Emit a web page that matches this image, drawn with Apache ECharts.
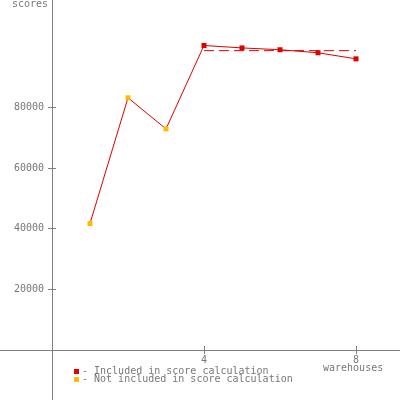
<!DOCTYPE html>
<html><head><meta charset="utf-8">
<script src="https://cdn.jsdelivr.net/npm/echarts@6/dist/echarts.min.js"></script>
<style>html,body{margin:0;padding:0;background:#fff}#c{width:400px;height:400px}</style>
</head><body><div id="c"></div>
<script>
const warehouses = [1, 2, 3, 4, 5, 6, 7, 8];
const scores = [41700, 83150, 72900, 100400, 99600, 99000, 98000, 96000];
const included = [false, false, false, true, true, true, true, true];
const avgRange = [4, 8];
const avgScore = 98700;
const yTicks = [20000, 40000, 60000, 80000];
const xTicks = [4, 8];
const legendLabels = ['- Included in score calculation', '- Not included in score calculation'];

const RED = '#e00000', YEL = '#ffbb00', GRAY = '#808080', TXT = '#777777';
const FONT = 'DejaVu Sans Mono';
const chart = echarts.init(document.getElementById('c'), null, {renderer: 'canvas'});

const xMax = 9.158, yMax = 115400;
const GL = 52, GB = 50;
function xAxisDef(main) {
  return {
    type: 'value', min: 0, max: xMax,
    position: main ? 'bottom' : 'top', offset: main ? 0 : -(400 - GB),
    axisLine: {show: true, onZero: false, lineStyle: {color: main ? GRAY : 'rgba(0,0,0,0)', width: 1}},
    axisTick: {show: true, inside: false, length: 4, customValues: xTicks, lineStyle: {color: GRAY, width: 1}},
    axisLabel: {show: main, customValues: xTicks, margin: 5, color: TXT, fontFamily: FONT, fontSize: 10,
      formatter: v => String(v)},
    splitLine: {show: false}
  };
}
function yAxisDef(main) {
  return {
    type: 'value', min: 0, max: yMax,
    position: main ? 'left' : 'right', offset: main ? 0 : -(400 - GL),
    axisLine: {show: true, onZero: false, lineStyle: {color: main ? GRAY : 'rgba(0,0,0,0)', width: 1}},
    axisTick: {show: true, inside: false, length: 4, customValues: yTicks, lineStyle: {color: GRAY, width: 1}},
    axisLabel: {show: main, customValues: yTicks, margin: 8, color: TXT, fontFamily: FONT, fontSize: 10,
      formatter: v => String(v)},
    splitLine: {show: false}
  };
}

chart.setOption({
  animation: false,
  backgroundColor: '#fff',
  grid: {left: GL, right: 0, top: 0, bottom: GB},
  xAxis: [xAxisDef(true), xAxisDef(false)],
  yAxis: [yAxisDef(true), yAxisDef(false)],
  series: [
    {
      type: 'line', xAxisIndex: 1, yAxisIndex: 1,
      data: avgRange.map(w => [w, avgScore]),
      symbol: 'none',
      lineStyle: {color: RED, width: 1, type: [10, 5]},
      z: 2
    },
    {
      type: 'line', xAxisIndex: 0, yAxisIndex: 0,
      data: warehouses.map((w, i) => ({value: [w, scores[i]], itemStyle: {color: included[i] ? RED : YEL}})),
      symbol: 'rect', symbolSize: 5, showSymbol: true,
      lineStyle: {color: RED, width: 1},
      z: 3
    }
  ],
  graphic: [
    {type: 'line', shape: {x1: 0, y1: 350.5, x2: 52, y2: 350.5}, style: {stroke: GRAY, lineWidth: 1}, silent: true},
    {type: 'line', shape: {x1: 52.5, y1: 350, x2: 52.5, y2: 400}, style: {stroke: GRAY, lineWidth: 1}, silent: true},
    {type: 'text', left: 12, top: -1, style: {text: 'scores', fill: TXT, font: '10px ' + FONT}},
    {type: 'text', left: 323, top: 363, style: {text: 'warehouses', fill: TXT, font: '10px ' + FONT}},
    {type: 'rect', shape: {x: 74, y: 369, width: 5, height: 5}, style: {fill: RED}},
    {type: 'rect', shape: {x: 74, y: 377, width: 5, height: 5}, style: {fill: YEL}},
    {type: 'text', left: 82, top: 366, style: {text: legendLabels[0], fill: TXT, font: '10px ' + FONT}},
    {type: 'text', left: 82, top: 374, style: {text: legendLabels[1], fill: TXT, font: '10px ' + FONT}}
  ]
});
</script></body></html>
